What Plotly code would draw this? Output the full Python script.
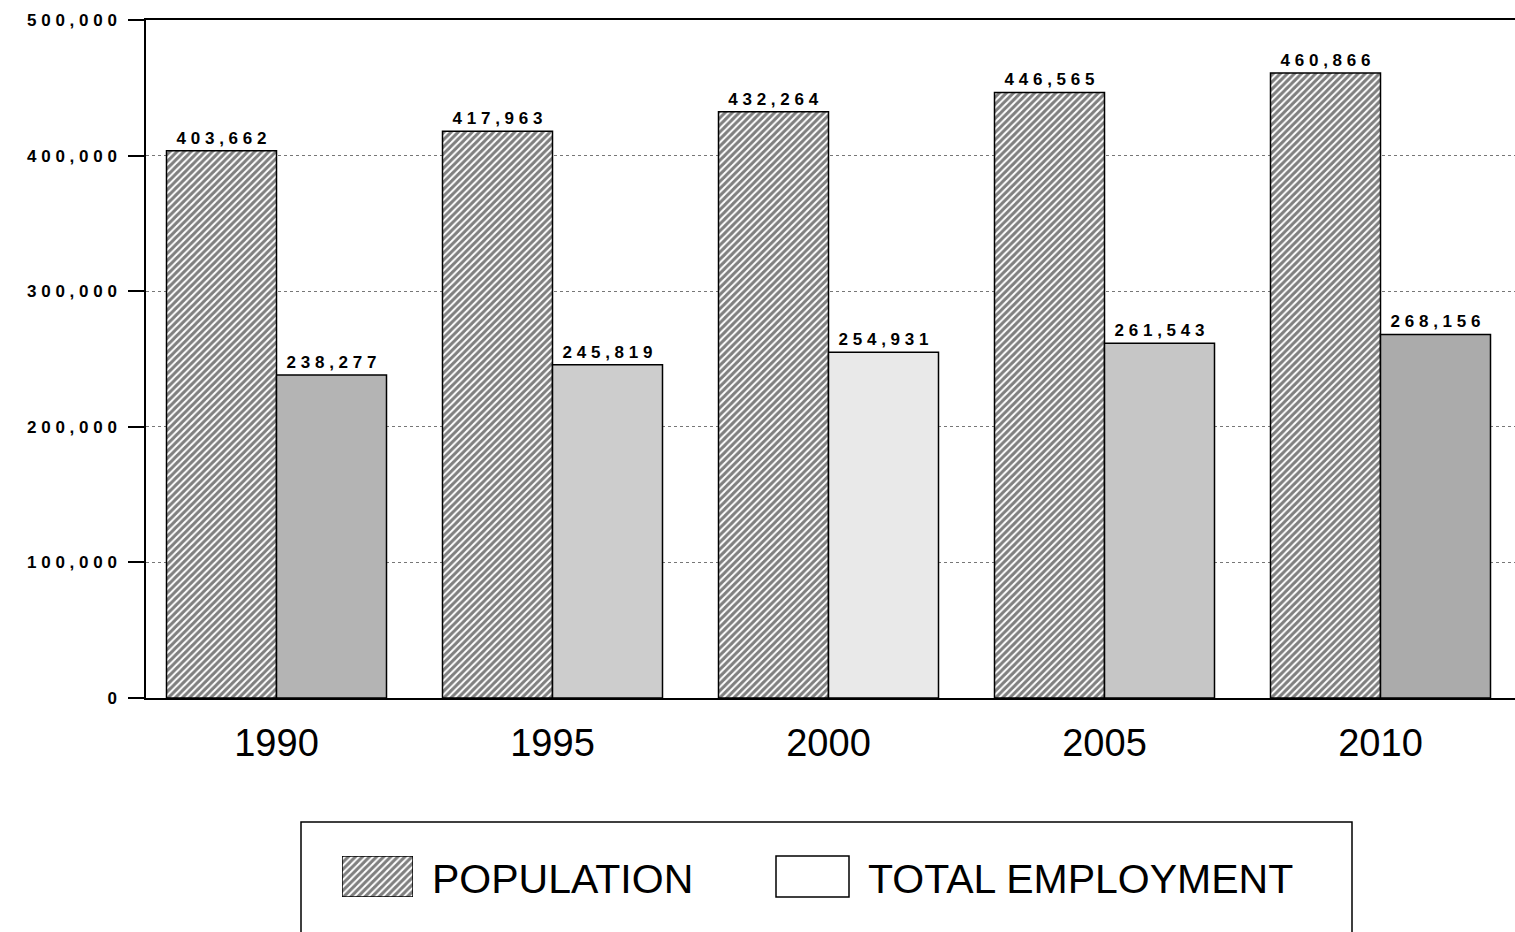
import plotly.graph_objects as go

W, H = 1515, 932

years = ["1990", "1995", "2000", "2005", "2010"]
population = [403662, 417963, 432264, 446565, 460866]
employment = [238277, 245819, 254931, 261543, 268156]
y_ticks = [0, 100000, 200000, 300000, 400000, 500000]
emp_shades = ["#b4b4b4", "#cdcdcd", "#e9e9e9", "#c6c6c6", "#ababab"]

FONT = "Liberation Sans"


def spaced(v):
    return " ".join(f"{v:,}")


def px(x):
    return x / W


def py(y):
    return 1 - y / H


# plot area in pixels
X0, X1 = 146, 1515
Y0, Y1 = 20, 698
step = 276.0
c0 = 276.5
r0 = -(c0 - X0) / step
r1 = r0 + (X1 - X0) / step

hatch = dict(shape="/", fgcolor="black", bgcolor="white", size=5, solidity=0.6)

fig = go.Figure()

fig.add_trace(go.Bar(
    x=years, y=population, name="POPULATION",
    text=[spaced(v) for v in population], textposition="outside",
    textfont=dict(family=FONT, size=17, color="black", weight="bold"),
    marker=dict(color="white", line=dict(color="black", width=1.5), pattern=hatch),
    cliponaxis=False, showlegend=False,
))
fig.add_trace(go.Bar(
    x=years, y=employment, name="TOTAL EMPLOYMENT",
    text=[spaced(v) for v in employment], textposition="outside",
    textfont=dict(family=FONT, size=17, color="black", weight="bold"),
    marker=dict(color=emp_shades, line=dict(color="black", width=1.5)),
    cliponaxis=False, showlegend=False,
))

# hatched legend swatch on its own small axes
fig.add_trace(go.Bar(
    x=[0], y=[1], xaxis="x2", yaxis="y2", width=[1], showlegend=False, hoverinfo="skip",
    marker=dict(color="white", line=dict(color="black", width=1.5), pattern=hatch),
))

fig.update_layout(
    width=W, height=H,
    margin=dict(l=0, r=0, t=0, b=0),
    paper_bgcolor="white", plot_bgcolor="white",
    barmode="group", bargap=56 / 276, bargroupgap=0,
    font=dict(family=FONT, color="black"),
    xaxis=dict(
        domain=[px(X0), px(X1)], range=[r0, r1], type="category",
        showline=True, linecolor="black", linewidth=2, mirror=True,
        showgrid=False, ticks="", ticklabelstandoff=10,
        tickfont=dict(family=FONT, size=38, color="black"),
        automargin=False, anchor="y",
    ),
    yaxis=dict(
        domain=[py(Y1), py(Y0)], range=[0, 500000],
        tickvals=y_ticks, ticktext=[spaced(v) for v in y_ticks],
        showline=True, linecolor="black", linewidth=1.5,
        ticks="outside", ticklen=16, tickcolor="black", tickwidth=1.5,
        ticklabelstandoff=8,
        showgrid=True, gridcolor="#777777", griddash="dot", gridwidth=1,
        zeroline=False,
        tickfont=dict(family=FONT, size=17, color="black", weight="bold"),
        automargin=False, anchor="x",
    ),
    xaxis2=dict(domain=[px(342), px(413)], range=[-0.5, 0.5], visible=False, anchor="y2", fixedrange=True),
    yaxis2=dict(domain=[py(897), py(856)], range=[0, 1], visible=False, anchor="x2", fixedrange=True),
    shapes=[
        # legend frame
        dict(type="rect", xref="paper", yref="paper", x0=px(301), x1=px(1352), y0=py(945), y1=py(822),
             line=dict(color="black", width=1.5), fillcolor="rgba(0,0,0,0)"),
        # white legend swatch
        dict(type="rect", xref="paper", yref="paper", x0=px(776), x1=px(849), y0=py(897), y1=py(856),
             line=dict(color="black", width=1.5), fillcolor="white"),
    ],
    annotations=[
        dict(text="POPULATION", xref="paper", yref="paper", x=px(430), y=py(879),
             xanchor="left", yanchor="middle", showarrow=False,
             font=dict(family=FONT, size=41, color="black")),
        dict(text="TOTAL EMPLOYMENT", xref="paper", yref="paper", x=px(866), y=py(879),
             xanchor="left", yanchor="middle", showarrow=False,
             font=dict(family=FONT, size=41, color="black")),
    ],
)

fig.write_html("out.html")
